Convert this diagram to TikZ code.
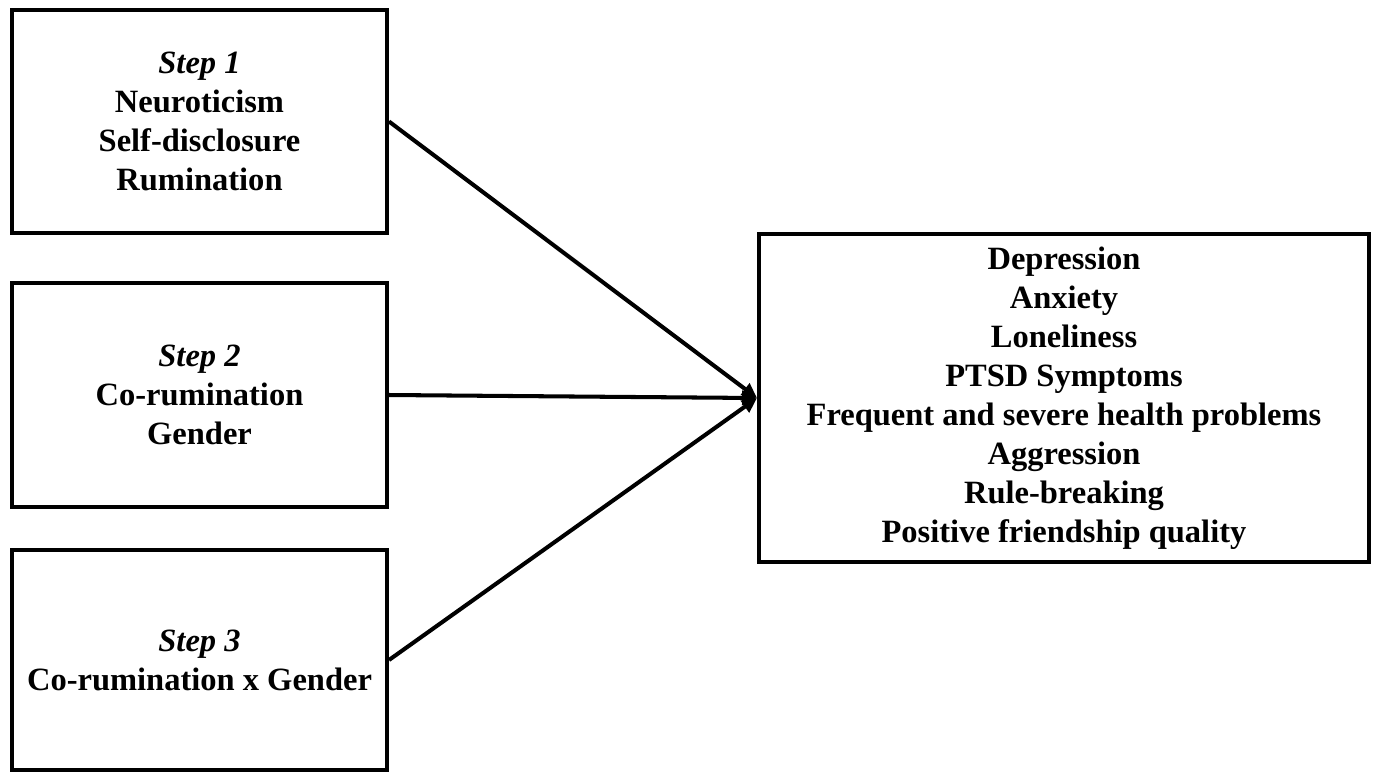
\documentclass[tikz,border=0pt]{standalone}
\usepackage{fontspec}
\setmainfont{Liberation Serif}
\usetikzlibrary{arrows.meta,positioning}

\begin{document}
\begin{tikzpicture}[x=0.02cm, y=-0.02cm,
    stepbox/.style={draw, line width=2.3pt, minimum width=7.5cm, align=center, inner sep=0pt, font=\fontsize{18.5}{22.2}\selectfont\bfseries},
    outbox/.style={draw, line width=2.3pt, minimum width=12.2cm, minimum height=6.56cm, align=center, inner sep=0pt, font=\fontsize{18.5}{22.2}\selectfont\bfseries},
    arr/.style={-{Triangle[length=0.3cm, width=0.28cm]}, line width=2.3pt}
]
\useasboundingbox (0,0) rectangle (1377,772);

\node[stepbox, minimum height=4.46cm] (S1) at (199.5,121.5) {\textit{Step 1}\\Neuroticism\\Self-disclosure\\Rumination};
\node[stepbox, minimum height=4.48cm] (S2) at (199.5,395) {\textit{Step 2}\\Co-rumination\\Gender};
\node[stepbox, minimum height=4.4cm] (S3) at (199.5,660) {\textit{Step 3}\\Co-rumination x Gender};
\node[outbox] (OUT) at (1064,398) {Depression\\Anxiety\\Loneliness\\PTSD Symptoms\\Frequent and severe health problems\\Aggression\\Rule-breaking\\Positive friendship quality};

\draw[arr] (S1.east) -- (OUT.west);
\draw[arr] (S2.east) -- (OUT.west);
\draw[arr] (S3.east) -- (OUT.west);
\end{tikzpicture}
\end{document}
